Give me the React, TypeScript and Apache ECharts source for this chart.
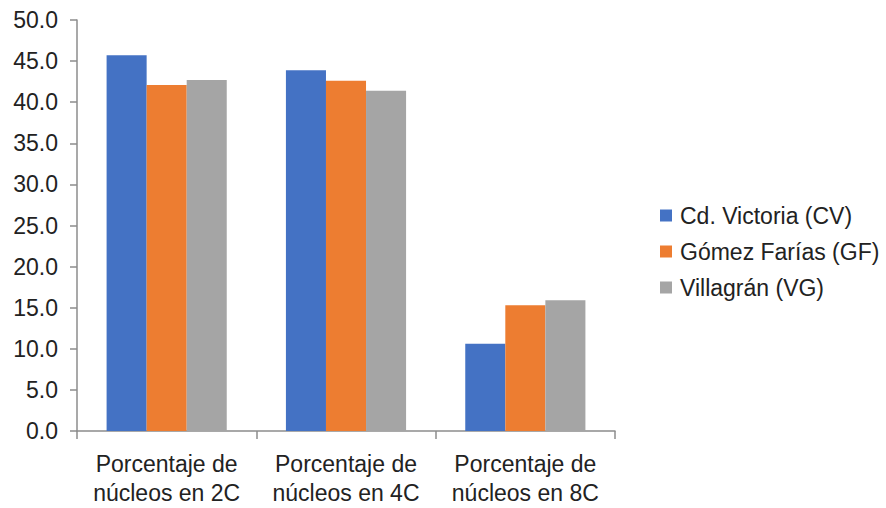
import React, { useEffect, useRef } from "react";
import * as echarts from "echarts";

const categories = [
  "Porcentaje de\nnúcleos en 2C",
  "Porcentaje de\nnúcleos en 4C",
  "Porcentaje de\nnúcleos en 8C",
];
const seriesNames = ["Cd. Victoria (CV)", "Gómez Farías (GF)", "Villagrán (VG)"];
const cvValues = [45.7, 43.9, 10.6];
const gfValues = [42.1, 42.6, 15.3];
const vgValues = [42.7, 41.4, 15.9];
const colors = ["#4472C4", "#ED7D31", "#A5A5A5"];

const FONT = "'Liberation Sans', Arial, Helvetica, sans-serif";

export default function App() {
  const ref = useRef<HTMLDivElement>(null);
  useEffect(() => {
    if (!ref.current) return;
    const chart = echarts.init(ref.current, undefined, { renderer: "svg" });
    const data = [cvValues, gfValues, vgValues];
    chart.setOption({
      animation: false,
      backgroundColor: "#ffffff",
      textStyle: { fontFamily: FONT },
      grid: { left: 77, right: 271, top: 20, bottom: 77, containLabel: false },
      legend: {
        orient: "vertical",
        left: 655,
        top: 199,
        itemWidth: 12,
        itemHeight: 12,
        itemGap: 13,
        icon: "rect",
        textStyle: { fontSize: 23, color: "#222", fontFamily: FONT, lineHeight: 23, padding: [0, 0, 0, 3] },
        data: seriesNames,
      },
      xAxis: {
        type: "category",
        data: categories,
        axisLine: { show: true, lineStyle: { color: "#8c8c8c", width: 1.5 } },
        axisTick: { show: true, length: 8, alignWithLabel: false, lineStyle: { color: "#8c8c8c", width: 1.5 } },
        axisLabel: { fontSize: 23, color: "#222", lineHeight: 29, margin: 18, fontFamily: FONT, interval: 0 },
      },
      yAxis: {
        type: "value",
        min: 0,
        max: 50,
        interval: 5,
        splitLine: { show: false },
        axisLine: { show: true, lineStyle: { color: "#8c8c8c", width: 1.5 } },
        axisTick: { show: true, length: 7, lineStyle: { color: "#8c8c8c", width: 1.5 } },
        axisLabel: {
          fontSize: 23,
          color: "#222",
          margin: 19,
          fontFamily: FONT,
          formatter: (v: number) => v.toFixed(1),
        },
      },
      series: seriesNames.map((name, i) => ({
        name,
        type: "bar",
        data: data[i],
        itemStyle: { color: colors[i] },
        barGap: "0%",
        barCategoryGap: "33%",
      })),
    });
    return () => chart.dispose();
  }, []);
  return (
    <div
      ref={ref}
      style={{ position: "absolute", left: 0, top: 0, width: 886, height: 508 }}
    />
  );
}
